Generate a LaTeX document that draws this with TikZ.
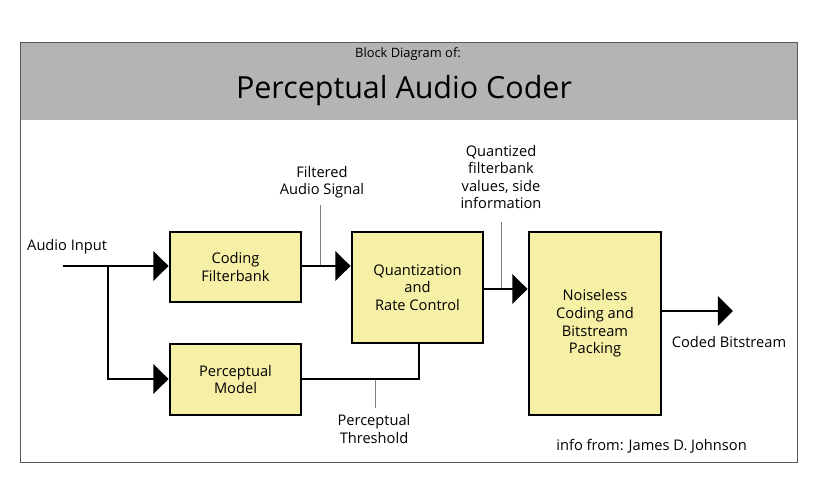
\documentclass[tikz,border=0pt]{standalone}
\usepackage{fontspec}
\setmainfont{Open Sans}
\usetikzlibrary{arrows.meta}
\definecolor{boxy}{HTML}{F6EFA6}
\definecolor{hdr}{HTML}{B4B4B4}
\begin{document}
\begin{tikzpicture}[x=0.03cm,y=-0.03cm,
 blk/.style={draw=black,line width=2.4pt,fill=boxy,align=center,font=\fontsize{12.5}{15}\selectfont,inner sep=0pt},
 lab/.style={align=center,font=\fontsize{12.5}{15}\selectfont,inner sep=0pt},
 wire/.style={line width=2.5pt},
 arr/.style={wire,-{Triangle[length=13pt,width=25pt]}},
 thin/.style={line width=0.5pt,draw=gray}]
\useasboundingbox (0,0) rectangle (820,503);
\fill[white] (0,0) rectangle (820,503);
\fill[hdr] (20,42) rectangle (797,120);
\draw[line width=0.8pt,draw=gray!70!black] (20,42) rectangle (797,462);
\node[lab,font=\fontsize{11}{13}\selectfont] (t1) at (408,54) {Block Diagram of:};
\node[lab,font=\fontsize{26}{30}\selectfont] (t2) at (404,91) {Perceptual Audio Coder};
\node[blk,minimum width=131*0.03cm,minimum height=70*0.03cm] (cf) at (235.5,267) {Coding\\Filterbank};
\node[blk,minimum width=131*0.03cm,minimum height=71*0.03cm] (pm) at (235.5,379.5) {Perceptual\\Model};
\node[blk,minimum width=131*0.03cm,minimum height=111*0.03cm] (qr) at (417.5,287.5) {Quantization\\and\\Rate Control};
\node[blk,minimum width=132*0.03cm,minimum height=183*0.03cm] (nc) at (595,323.5) {Noiseless\\Coding and\\Bitstream\\Packing};
\coordinate (in) at (63,266);
\coordinate (br) at (108,266);
\coordinate (brd) at (108,379);
\coordinate (out) at (733,311);
\node[lab,anchor=west] (ai) at (27,247) {Audio Input};
\node[lab] (fa) at (322,182) {Filtered\\Audio Signal};
\node[lab] (qf) at (501,177) {Quantized\\filterbank\\values, side\\information};
\node[lab] (pt) at (374,429) {Perceptual\\Threshold};
\node[lab] (cb) at (729,342) {Coded Bitstream};
\node[lab,anchor=east] (jj) at (747,446) {info from: James D. Johnson};
\coordinate (f1) at (320,205); \coordinate (f2) at (320,266);
\coordinate (q1) at (501,222); \coordinate (q2) at (501,289);
\coordinate (p1) at (375,379); \coordinate (p2) at (375,408);
\draw[thin] (f1)--(f2);
\draw[thin] (q1)--(q2);
\draw[thin] (p1)--(p2);
\draw[arr] (in) -- (cf.west|-in);
\draw[arr] (br) -- (brd) -- (pm.west|-brd);
\draw[arr] (cf.east|-in) -- (qr.west|-in);
\draw[arr] (qr.east|-q2) -- (nc.west|-q2);
\draw[arr] (nc.east|-out) -- (out);
\draw[wire] (pm.east|-brd) -- (419,379) -- (419,343);
\end{tikzpicture}
\end{document}
